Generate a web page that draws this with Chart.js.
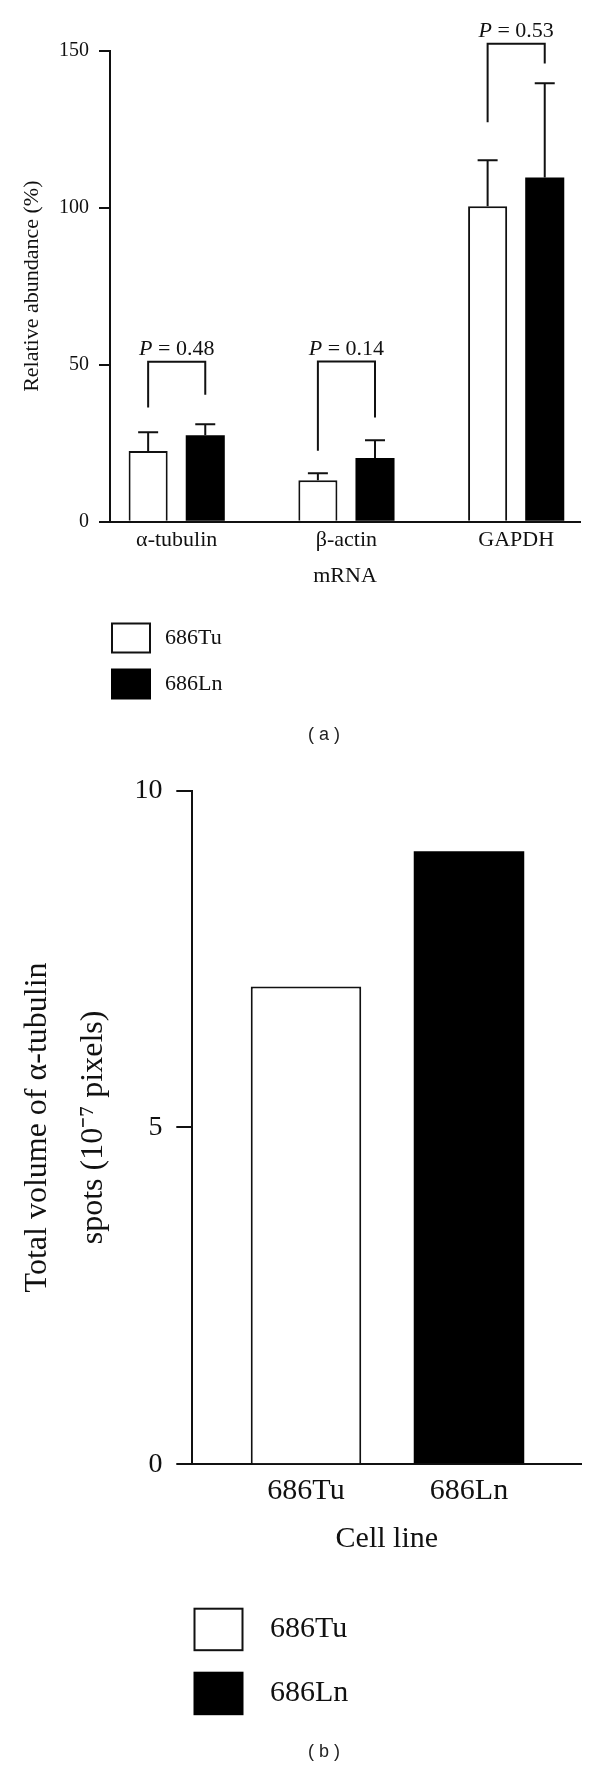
<!DOCTYPE html>
<html><head><meta charset="utf-8">
<script src="https://cdn.jsdelivr.net/npm/chart.js@4"></script>
<style>
html,body{margin:0;padding:0;background:#fff;}
#wrap{width:600px;height:1767px;position:relative;overflow:hidden;}
canvas{display:block;position:absolute;left:0;}
#ca{top:0;} #cb{top:760px;}
</style></head><body>
<div id="wrap">
<canvas id="ca" width="600" height="760"></canvas>
<canvas id="cb" width="600" height="1007"></canvas>
</div>
<script>
// ---------- Panel (a) data ----------
const genes = ['α-tubulin', 'β-actin', 'GAPDH'];
const genesAxisTitle = 'mRNA';
const seriesNames = ['686Tu', '686Ln'];
const tuMean = [22.5, 13.2, 100.5];
const tuErrTop = [28.5, 15.4, 115.1];
const lnMean = [27.5, 20.3, 109.6];
const lnErrTop = [31.0, 25.9, 139.6];
const pValues = ['0.48', '0.14', '0.53'];
const bracketTop = [50.9, 51.0, 152.2];
const bracketLeftEnd = [36.4, 22.6, 127.2];
const bracketRightEnd = [40.4, 33.2, 145.9];
const yTicksA = [0, 50, 100, 150];
const yTitleA = 'Relative abundance (%)';

// ---------- Panel (b) data ----------
const cellLines = ['686Tu', '686Ln'];
const volumes = [7.09, 9.10];
const yTicksB = [0, 5, 10];
const yTitleB = ['Total volume of α-tubulin', 'spots (10⁻⁷ pixels)'];
const xTitleB = 'Cell line';

const FONT = "'Liberation Serif', 'Times New Roman', serif";
const SANS = "'Liberation Sans', Arial, sans-serif";
const INK = '#111';

function drawLegend(ctx, items, x, y0, bw, bh, gap, size, textX) {
  items.forEach((it, i) => {
    const y = y0 + i * (bh + gap);
    ctx.save();
    ctx.fillStyle = it.fill;
    ctx.fillRect(x, y, bw, bh);
    if (it.stroke) {
      ctx.strokeStyle = it.stroke; ctx.lineWidth = 2;
      ctx.strokeRect(x + 1, y + 1, bw - 2, bh - 2);
    }
    ctx.fillStyle = INK;
    ctx.font = size + 'px ' + FONT;
    ctx.textAlign = 'left'; ctx.textBaseline = 'middle';
    ctx.fillText(it.label, textX, y + bh / 2);
    ctx.restore();
  });
}

function drawCaption(ctx, text, cx, cy) {
  ctx.save();
  ctx.fillStyle = '#222';
  ctx.font = '18px ' + SANS;
  ctx.textAlign = 'center'; ctx.textBaseline = 'middle';
  ctx.fillText(text, cx, cy);
  ctx.restore();
}

function drawP(ctx, cx, baseY, p, size) {
  const it = 'italic ' + size + 'px ' + FONT, rg = size + 'px ' + FONT;
  ctx.font = it; const w1 = ctx.measureText('P').width;
  const rest = ' = ' + p;
  ctx.font = rg; const w2 = ctx.measureText(rest).width;
  const x = cx - (w1 + w2) / 2;
  ctx.textBaseline = 'alphabetic'; ctx.textAlign = 'left';
  ctx.fillStyle = INK;
  ctx.font = it; ctx.fillText('P', x, baseY);
  ctx.font = rg; ctx.fillText(rest, x + w1, baseY);
}

const overlayA = {
  id: 'overlayA',
  afterDatasetsDraw(chart) {
    const ctx = chart.ctx, ys = chart.scales.y;
    ctx.save();
    ctx.strokeStyle = INK; ctx.lineWidth = 2; ctx.lineCap = 'butt';
    // error bars
    chart.data.datasets.forEach((ds, di) => {
      const meta = chart.getDatasetMeta(di);
      meta.data.forEach((el, i) => {
        const yt = ys.getPixelForValue(ds.errTop[i]);
        ctx.beginPath();
        ctx.moveTo(el.x, el.y); ctx.lineTo(el.x, yt);
        ctx.moveTo(el.x - 10, yt); ctx.lineTo(el.x + 10, yt);
        ctx.stroke();
      });
    });
    // brackets + P values
    const m0 = chart.getDatasetMeta(0), m1 = chart.getDatasetMeta(1);
    pValues.forEach((p, i) => {
      const lx = m0.data[i].x, rx = m1.data[i].x;
      const yT = ys.getPixelForValue(bracketTop[i]);
      ctx.beginPath();
      ctx.moveTo(lx, ys.getPixelForValue(bracketLeftEnd[i]));
      ctx.lineTo(lx, yT); ctx.lineTo(rx, yT);
      ctx.lineTo(rx, ys.getPixelForValue(bracketRightEnd[i]));
      ctx.stroke();
      drawP(ctx, (lx + rx) / 2, yT - 7, p, 22);
    });
    ctx.restore();
    drawLegend(ctx, chart.data.datasets.map(d => ({label: d.label, fill: d.backgroundColor, stroke: d.borderWidth ? d.borderColor : null})),
      111, 622.5, 40, 31, 15, 22, 165);
    drawCaption(ctx, '( a )', 324, 735);
  }
};

new Chart(document.getElementById('ca'), {
  type: 'bar',
  data: {
    datasets: [
      {label: seriesNames[0], data: tuMean.map((v, i) => ({x: i + 1, y: v})), errTop: tuErrTop,
       backgroundColor: '#ffffff', borderColor: INK, borderWidth: 2},
      {label: seriesNames[1], data: lnMean.map((v, i) => ({x: i + 1, y: v})), errTop: lnErrTop,
       backgroundColor: '#000000', borderColor: '#000000', borderWidth: 0}
    ]
  },
  options: {
    responsive: false, animation: false, devicePixelRatio: 1,
    categoryPercentage: 0.673, barPercentage: 0.684,
    layout: {padding: {left: 0, right: 20, top: 50.7, bottom: 0}},
    plugins: {legend: {display: false}, tooltip: {enabled: false}},
    scales: {
      x: {
        type: 'linear', min: 0.607, max: 3.376, offset: false,
        afterBuildTicks: s => { s.ticks = genes.map((g, i) => ({value: i + 1})); },
        ticks: {callback: v => genes[v - 1], font: {family: FONT, size: 22}, color: INK, padding: 5, autoSkip: false, maxRotation: 0},
        grid: {display: false, drawTicks: false},
        border: {display: true, color: INK, width: 2},
        title: {display: true, text: genesAxisTitle, font: {family: FONT, size: 22}, color: INK, padding: {top: 0, bottom: 171}},
        afterFit: s => { s.height = 238.3; }
      },
      y: {
        min: 0, max: 150,
        afterBuildTicks: s => { s.ticks = yTicksA.map(v => ({value: v})); },
        ticks: {font: {family: FONT, size: 20}, color: INK, padding: 10},
        grid: {drawOnChartArea: false, drawTicks: true, tickLength: 11, color: INK, lineWidth: 2},
        border: {display: true, color: INK, width: 2},
        title: {display: true, text: yTitleA, font: {family: FONT, size: 22}, color: INK, padding: {top: 19.3, bottom: 0}},
        afterFit: s => { s.width = 110; }
      }
    }
  },
  plugins: [overlayA]
});

const overlayB = {
  id: 'overlayB',
  afterDatasetsDraw(chart) {
    const ctx = chart.ctx;
    drawLegend(ctx, chart.data.datasets.map(d => ({label: d.label, fill: d.backgroundColor, stroke: d.borderWidth ? d.borderColor : null})),
      193.5, 847.7, 50, 43.5, 20.5, 30, 270);
    drawCaption(ctx, '( b )', 324, 991.7);
  }
};

new Chart(document.getElementById('cb'), {
  type: 'bar',
  data: {
    datasets: [
      {label: cellLines[0], data: [{x: 1, y: volumes[0]}], backgroundColor: '#ffffff', borderColor: INK, borderWidth: 2},
      {label: cellLines[1], data: [{x: 2, y: volumes[1]}], backgroundColor: '#000000', borderColor: '#000000', borderWidth: 0}
    ]
  },
  options: {
    responsive: false, animation: false, devicePixelRatio: 1,
    grouped: false, categoryPercentage: 1, barPercentage: 0.678,
    layout: {padding: {left: 0, right: 18.7, top: 26.7, bottom: 0}},
    plugins: {legend: {display: false}, tooltip: {enabled: false}},
    scales: {
      x: {
        type: 'linear', min: 0.3025, max: 2.689, offset: false,
        afterBuildTicks: s => { s.ticks = cellLines.map((c, i) => ({value: i + 1})); },
        ticks: {callback: v => cellLines[v - 1], font: {family: FONT, size: 30}, color: INK, padding: 8.7, autoSkip: false, maxRotation: 0},
        grid: {display: false, drawTicks: false},
        border: {display: true, color: INK, width: 2},
        title: {display: true, text: xTitleB, font: {family: FONT, size: 30}, color: INK, padding: {top: 0, bottom: 209.7}},
        afterFit: s => { s.height = 302.7; }
      },
      y: {
        min: 0, max: 10,
        afterBuildTicks: s => { s.ticks = yTicksB.map(v => ({value: v})); },
        ticks: {font: {family: FONT, size: 28}, color: INK, padding: 13.7},
        grid: {drawOnChartArea: false, drawTicks: true, tickLength: 16, color: INK, lineWidth: 2},
        border: {display: true, color: INK, width: 2},
        title: {display: true, text: yTitleB, font: {family: FONT, size: 32, lineHeight: 1.75}, color: INK, padding: {top: 10, bottom: 0}},
        afterFit: s => { s.width = 192.3; }
      }
    }
  },
  plugins: [overlayB]
});
</script>
</body></html>
